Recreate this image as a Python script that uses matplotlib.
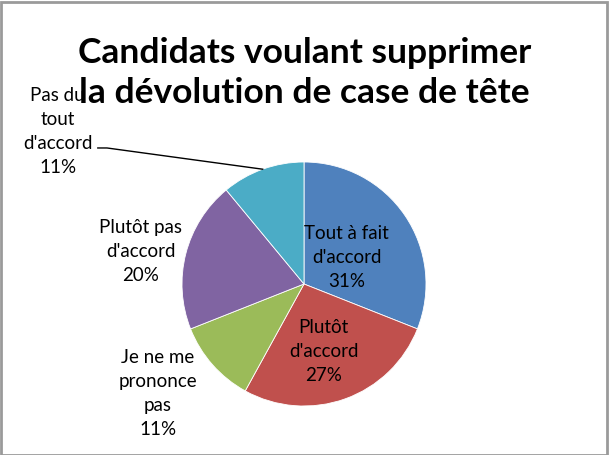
import numpy as np
import matplotlib.pyplot as plt

plt.rcParams['font.family'] = ['Lato', 'DejaVu Sans']

categories = ["Tout à fait\nd'accord", "Plutôt\nd'accord", "Je ne me\nprononce\npas",
              "Plutôt pas\nd'accord", "Pas du\ntout\nd'accord"]
values = [31, 27, 11, 20, 11]
colors = ['#4F81BD', '#C0504D', '#9BBB59', '#8064A2', '#4BACC6']

# label positions (in units of the pie radius)
label_pos = [(0.35, 0.22), (0.16, -0.55), (-1.20, -0.90), (-1.34, 0.27), (-2.02, 1.25)]

W, H = 609, 455
fig = plt.figure(figsize=(W / 100, H / 100), dpi=100)
fig.patch.set_facecolor('white')

cx, cy, r = 304, 284, 122
ax = fig.add_axes([(cx - r) / W, (H - cy - r) / H, 2 * r / W, 2 * r / H])
wedges, _ = ax.pie(values, colors=colors, startangle=90, counterclock=False,
                   radius=1, wedgeprops=dict(edgecolor='white', linewidth=0.6))
ax.set_xlim(-1, 1)
ax.set_ylim(-1, 1)
ax.set_aspect('equal')
ax.axis('off')

total = sum(values)
for lab, v, (x, y) in zip(categories, values, label_pos):
    ax.text(x, y, f"{lab}\n{round(100 * v / total)}%", ha='center', va='center',
            fontsize=13.5, linespacing=1.5, color='black')

# leader line for the last slice
w = wedges[-1]
mid = np.deg2rad((w.theta1 + w.theta2) / 2)
ex, ey = np.cos(mid), np.sin(mid)
ax.plot([-1.69, -1.615, ex], [1.115, 1.115, ey], color='black', lw=1, clip_on=False)

fig.text(0.5, 1 - 73 / H, "Candidats voulant supprimer\nla dévolution de case de tête",
         ha='center', va='center', fontsize=25.5, fontweight='bold', linespacing=1.3)

# outer frame
fig.add_artist(plt.Rectangle((0.5 / W, 0.5 / H), 1 - 3 / W, 1 - 2.5 / H, transform=fig.transFigure,
                             fill=False, edgecolor='#9a9a9a', linewidth=2))

fig.savefig('out.png', dpi=100, facecolor='white')
